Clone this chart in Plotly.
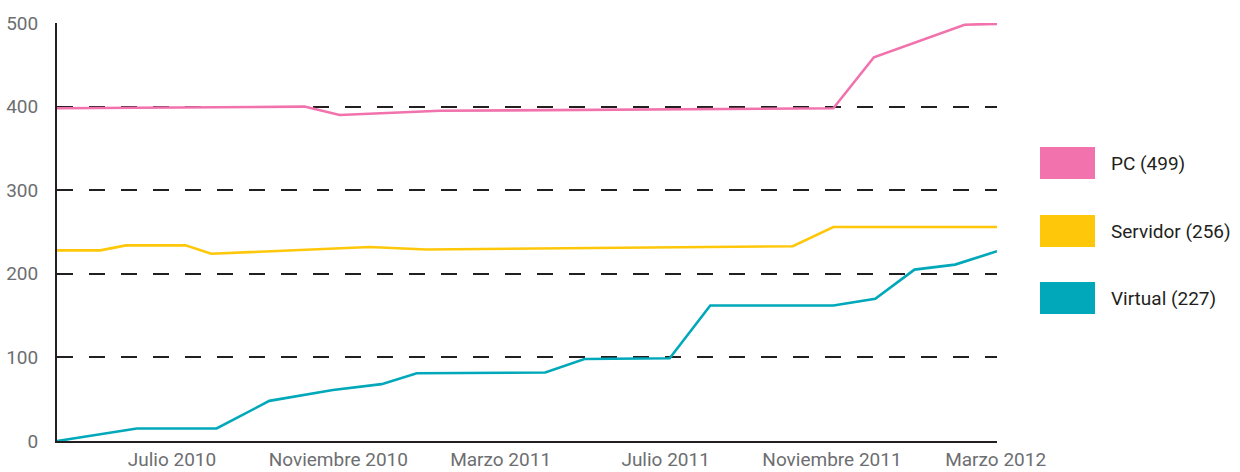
import plotly.graph_objects as go

# ---- data ----
pc_dates = ["2010-04-07", "2010-10-07", "2010-11-02", "2011-01-15",
            "2011-11-02", "2011-12-02", "2012-02-07", "2012-03-02"]
pc_values = [398, 400, 390, 395, 398, 459, 498, 499]

serv_dates = ["2010-04-07", "2010-05-09", "2010-05-28", "2010-07-11",
              "2010-07-30", "2010-11-24", "2011-01-05", "2011-10-03",
              "2011-11-02", "2012-03-02"]
serv_values = [228, 228, 234, 234, 224, 232, 229, 233, 256, 256]

virt_dates = ["2010-04-07", "2010-06-05", "2010-08-03", "2010-09-11",
              "2010-10-28", "2010-12-03", "2010-12-29", "2011-04-03",
              "2011-05-02", "2011-07-04", "2011-08-03", "2011-11-02",
              "2011-12-03", "2012-01-01", "2012-01-31", "2012-03-02"]
virt_values = [0, 15, 15, 48, 61, 68, 81, 82, 98, 99, 162, 162, 170, 205, 211, 227]

series_names = ["PC (499)", "Servidor (256)", "Virtual (227)"]
series_colors = ["#F172AC", "#FFC70A", "#00A8BA"]

x_tick_vals = ["2010-07-01", "2010-11-01", "2011-03-01", "2011-07-01", "2011-11-01", "2012-03-01"]
x_tick_text = ["Julio 2010", "Noviembre 2010", "Marzo 2011", "Julio 2011", "Noviembre 2011", "Marzo 2012"]
y_tick_vals = [0, 100, 200, 300, 400, 500]

x_range = ["2010-04-07", "2012-03-02"]
y_range = [0, 500]

FONT = "Roboto, 'Open Sans', sans-serif"
TICK_COLOR = "#6D6E71"

fig = go.Figure()
for dates, vals, name, col in zip([pc_dates, serv_dates, virt_dates],
                                  [pc_values, serv_values, virt_values],
                                  series_names, series_colors):
    fig.add_trace(go.Scatter(x=dates, y=vals, mode="lines", name=name,
                             line=dict(color=col, width=2.6), showlegend=False))

# custom legend: big colour swatches + labels
W, H = 1240, 472
ml, mr, mt, mb = 57, 243, 23, 31
pw, ph = W - ml - mr, H - mt - mb
sw_x0, sw_x1 = 1040, 1095
sw_centers = [163, 231, 298]
sw_h = 32
shapes = []
annotations = []
for name, col, cy in zip(series_names, series_colors, sw_centers):
    shapes.append(dict(type="rect", xref="paper", yref="paper",
                       x0=(sw_x0 - ml) / pw, x1=(sw_x1 - ml) / pw,
                       y0=(H - mb - (cy + sw_h / 2)) / ph, y1=(H - mb - (cy - sw_h / 2)) / ph,
                       fillcolor=col, line=dict(width=0)))
    annotations.append(dict(xref="paper", yref="paper", x=(1109 - ml) / pw,
                            y=(H - mb - cy) / ph, xanchor="left", yanchor="middle",
                            text=name, showarrow=False,
                            font=dict(family=FONT, size=19, color="#231F20")))

fig.update_layout(
    width=W, height=H,
    margin=dict(l=ml, r=mr, t=mt, b=mb, pad=0, autoexpand=False),
    paper_bgcolor="white", plot_bgcolor="white",
    shapes=shapes, annotations=annotations,
    font=dict(family=FONT, size=19, color=TICK_COLOR),
    xaxis=dict(type="date", range=x_range, tickvals=x_tick_vals, ticktext=x_tick_text,
               showgrid=False, zeroline=False, showline=True, linecolor="#231F20",
               linewidth=2, ticks="", ticklabelstandoff=0, automargin=False,
               tickfont=dict(family=FONT, size=19, color=TICK_COLOR)),
    yaxis=dict(range=y_range, tickvals=y_tick_vals, showgrid=True,
               gridcolor="#231F20", gridwidth=1.5, griddash="16px,16px",
               zeroline=False, showline=True, linecolor="#231F20", linewidth=2,
               ticks="", ticklabelstandoff=13, automargin=False,
               tickfont=dict(family=FONT, size=19, color=TICK_COLOR)),
)

fig.write_html("out.html", config={"displayModeBar": False},
               post_script="document.body.style.margin='0';document.body.style.overflow='hidden';")
